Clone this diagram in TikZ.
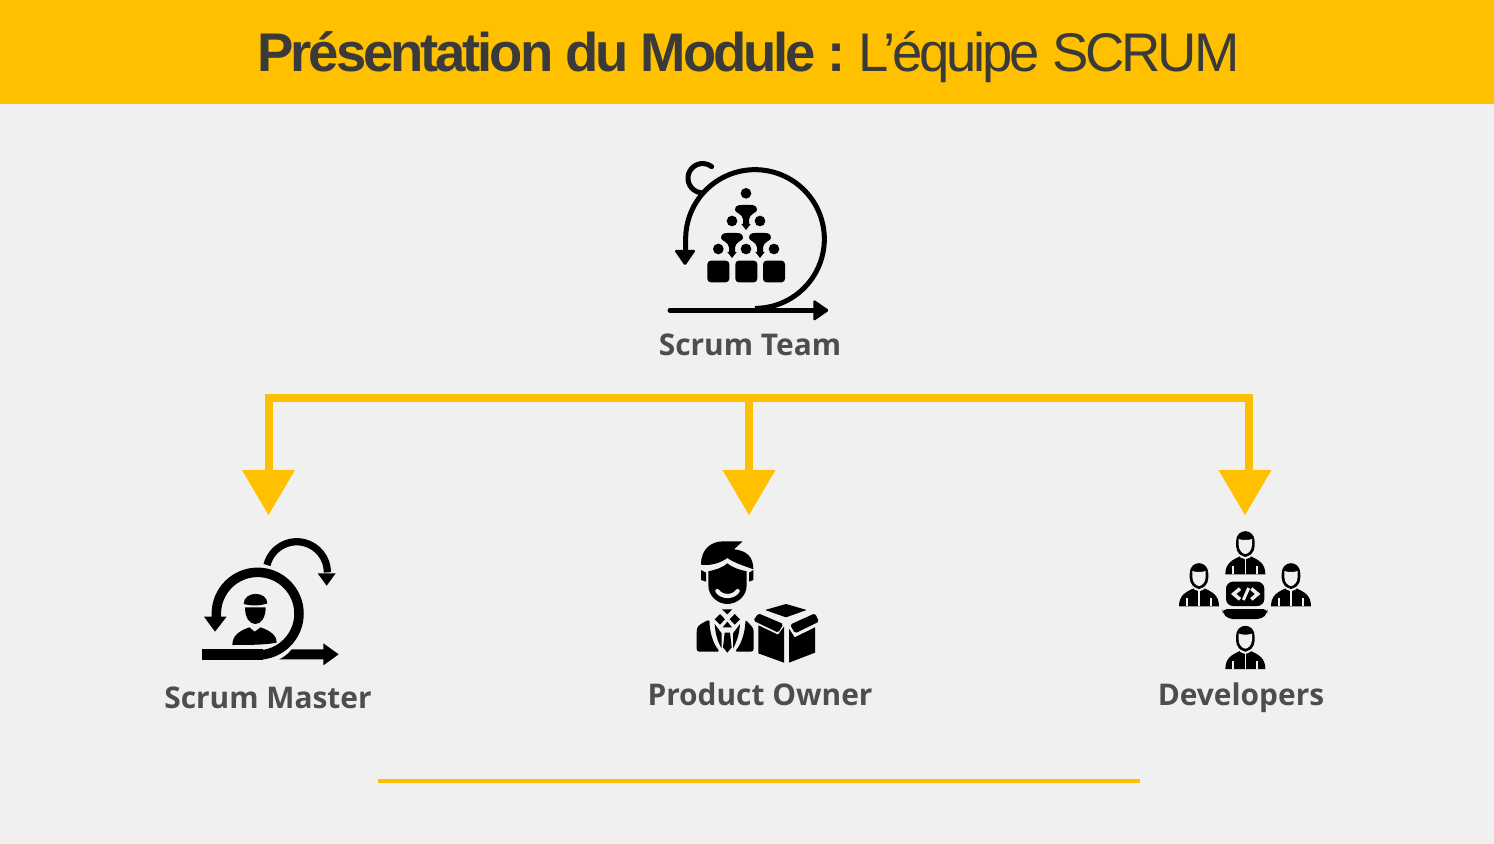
\documentclass[tikz,border=0pt]{standalone}
\usepackage{fontspec}
\setmainfont{Liberation Sans}
\newfontfamily\titlefont[LetterSpace=-5.7]{Liberation Sans}
\newfontfamily\labelfont{Open Sans}
\usetikzlibrary{arrows.meta}

\definecolor{bandgold}{HTML}{FFC000}
\definecolor{pagegrey}{HTML}{F0F0F0}
\definecolor{titledark}{HTML}{3A3A3A}
\definecolor{labeldark}{HTML}{4D4D4D}

\tikzset{
  treeline/.style={bandgold, line width=0.16cm, line join=miter},
  treetip/.style={-{Triangle[width=1.06cm, length=0.9cm, line width=0pt]}},
  ruleline/.style={bandgold, line width=0.08cm},
  rolelabel/.style={text=labeldark, anchor=base, font=\labelfont\bfseries\fontsize{17}{20}\selectfont, inner sep=0pt},
  iconline/.style={black, line width=#1, line cap=butt},
  iconcut/.style={pagegrey, line width=#1, line cap=round, line join=round}
}

% small figure of the team pyramid, coordinates are crop pixels
\newcommand{\teamfunnel}[2]{
  \fill[black, shift={(#1,#2)}] (-33,2) .. controls (-33,-10) and (-24,-13) .. (-14,-13)
    -- (14,-13) .. controls (24,-13) and (33,-10) .. (33,2)
    .. controls (33,10) and (10,14) .. (9,30) -- (9,44) -- (14,44) -- (0,62) -- (-14,44) -- (-9,44) -- (-9,30)
    .. controls (-10,14) and (-33,10) .. (-33,2) -- cycle;
}

\newcommand{\devperson}[2]{
  \begin{scope}[shift={(#1,#2)}]
    \fill[black] (-60,128) .. controls (-60,95) and (-40,85) .. (-16,74) -- (16,74)
      .. controls (40,85) and (60,95) .. (60,128) -- cycle;
    \fill[black] (-28,30) .. controls (-28,-12) and (28,-12) .. (28,30)
      -- (28,42) .. controls (28,62) and (12,76) .. (0,76) .. controls (-12,76) and (-28,62) .. (-28,42) -- cycle;
    \fill[pagegrey] (-20,22) .. controls (-10,26) and (10,26) .. (20,22)
      -- (20,40) .. controls (20,56) and (8,67) .. (0,67) .. controls (-8,67) and (-20,56) .. (-20,40) -- cycle;
    \draw[iconcut=0.04cm, line cap=butt] (-36,128) -- (-36,104);
    \draw[iconcut=0.04cm, line cap=butt] (36,128) -- (36,104);
    \draw[iconcut=0.03cm, line cap=butt] (0,128) -- (0,80);
    \draw[iconcut=0.04cm] (-14,74) -- (0,80) -- (14,74);
  \end{scope}
}

\begin{document}
\begin{tikzpicture}[x=0.02cm, y=-0.02cm]
  \useasboundingbox (0,0) rectangle (1494,844);

  \fill[pagegrey] (0,0) rectangle (1494,844);
  \fill[bandgold] (0,0) rectangle (1494,104);

  \node[inner sep=0pt, anchor=base, text=titledark, font=\titlefont\fontsize{31}{36}\selectfont] (titleText) at (748.5,72)
    {\textbf{Présentation du Module :} L’équipe SCRUM};

  % scrum team icon
  \begin{scope}[shift={(650,150)}, scale=1/3]
    \draw[iconline=0.1cm] (315,475) arc (90:-180:208) -- (107,305);
    \fill[black, rounded corners=1pt] (72,300) -- (138,300) -- (105,348) -- cycle;
    \draw[iconline=0.1cm, line cap=round] (185,50) arc (-52:-265:44);
    \draw[iconline=0.1cm, line cap=round] (60,481) -- (500,481);
    \fill[black, rounded corners=1pt] (490,448) -- (538,481) -- (490,514) -- cycle;
    \foreach \px/\py in {288/130, 246/213, 330/213, 205/297, 288/297, 372/297}
      \fill[black] (\px,\py) circle (16);
    \teamfunnel{288}{178}
    \teamfunnel{246}{262}
    \teamfunnel{330}{262}
    \foreach \px in {172,256,339}
      \fill[black, rounded corners=2pt] (\px,332) rectangle (\px+66,397);
  \end{scope}

  \node[rolelabel] (teamLabel) at (750,356) {Scrum Team};

  % tree
  \coordinate (masterCorner) at (268.5,398);
  \coordinate (ownerTop) at (749,398);
  \coordinate (devCorner) at (1249,398);
  \coordinate (masterTip) at (268.5,515);
  \coordinate (ownerTip) at (749,515);
  \coordinate (devNeck) at (1249,472);
  \coordinate (devHeadTop) at (1245,468);
  \coordinate (devTip) at (1245,515);

  \draw[treeline, treetip] (devNeck) -- (devCorner) -- (masterCorner) -- (masterTip);
  \draw[treeline, treetip] (ownerTop) -- (ownerTip);
  \draw[bandgold, line width=0pt, treetip] (devHeadTop) -- (devTip);

  % scrum master icon
  \begin{scope}[shift={(150,520)}, scale=1/3]
    \draw[iconline=0.19cm] (323,405) arc (90:-180:124) -- (199,292);
    \fill[black] (162,290) -- (230,290) -- (195,335) -- cycle;
    \fill[black] (155,387) -- (340,387) -- (340,419) -- (155,419) -- cycle;
    \fill[black] (388,418) .. controls (405,410) and (415,400) .. (425,388) -- (520,388) -- (520,370)
      -- (566,403) -- (520,436) -- (520,418) -- cycle;
    \draw[iconline=0.145cm] (351,135) arc (-166:0:92) ;
    \fill[black] (503,160) -- (557,160) -- (530,197) -- cycle;
    % head and shoulders
    \fill[black] (247,375) .. controls (247,345) and (270,332) .. (298,322) -- (314,335) -- (332,322)
      .. controls (360,332) and (380,345) .. (380,368) .. controls (345,375) and (290,375) .. (247,375) -- cycle;
    \fill[black] (285,262) .. controls (285,292) and (298,312) .. (316,312) .. controls (334,312) and (347,292) .. (347,262) -- cycle;
    \fill[black] (281,252) .. controls (281,212) and (352,212) .. (352,250) .. controls (330,258) and (305,258) .. (281,252) -- cycle;
  \end{scope}

  \node[rolelabel] (masterLabel) at (268,708) {Scrum Master};

  % product owner icon
  \begin{scope}[shift={(640,530)}, scale=1/3]
    \fill[black] (183,104) .. controls (183,55) and (215,34) .. (250,34) -- (308,34) -- (282,58)
      .. controls (320,62) and (340,80) .. (340,118) .. controls (315,108) and (285,100) .. (262,84)
      .. controls (240,100) and (210,108) .. (183,104) -- cycle;
    \fill[black] (205,124) .. controls (225,120) and (250,112) .. (262,100) .. controls (275,112) and (300,120) .. (320,124)
      -- (320,165) .. controls (320,200) and (290,222) .. (262,222) .. controls (235,222) and (205,200) .. (205,165) -- cycle;
    \fill[black] (183,120) -- (198,128) -- (198,155) -- (183,150) -- cycle;
    \fill[black] (340,120) -- (327,128) -- (327,155) -- (340,150) -- cycle;
    \draw[iconcut=0.085cm] (232,183) .. controls (245,203) and (280,203) .. (293,183);
    \fill[black, rounded corners=1.5pt] (170,365) -- (170,305) .. controls (172,285) and (190,278) .. (209,268)
      .. controls (208,300) and (218,340) .. (240,365) -- cycle;
    \fill[black, rounded corners=1.5pt] (341,365) -- (341,296) -- (316,268)
      .. controls (316,300) and (306,340) .. (284,365) -- cycle;
    \fill[black] (246,238) -- (277,238) -- (262,253) -- cycle;
    \fill[black] (240,252) -- (255,268) -- (240,284) -- (224,268) -- cycle;
    \fill[black] (284,252) -- (300,268) -- (284,284) -- (269,268) -- cycle;
    \fill[black] (262,275) -- (276,292) -- (248,292) -- cycle;
    \fill[black] (224,282) .. controls (226,315) and (235,340) .. (245,355) -- (245,310) -- cycle;
    \fill[black] (300,282) .. controls (298,315) and (288,340) .. (279,355) -- (279,310) -- cycle;
    \fill[black] (254,308) -- (270,308) -- (275,352) -- (262,368) -- (249,352) -- cycle;
    \fill[black, rounded corners=0.5pt] (375,240) -- (438,222) -- (500,240) -- (438,262) -- cycle;
    \fill[black, rounded corners=1pt] (340,272) -- (355,250) -- (430,282) -- (415,308) -- cycle;
    \fill[black, rounded corners=1pt] (450,284) -- (525,250) -- (537,275) -- (465,310) -- cycle;
    \fill[black] (355,286) -- (414,314) -- (432,290) -- (432,398) -- (355,370) -- cycle;
    \fill[black] (447,398) -- (447,296) -- (464,322) -- (525,292) -- (525,368) -- cycle;
  \end{scope}

  \node[rolelabel] (ownerLabel) at (760,705) {Product Owner};

  % developers icon
  \begin{scope}[shift={(1150,520)}, scale=1/3]
    \devperson{286}{35}
    \devperson{147}{131}
    \devperson{423}{131}
    \devperson{286}{319}
    \fill[black, rounded corners=4pt] (228,258) -- (228,185) -- (343,185) -- (343,258) -- cycle;
    \fill[black, rounded corners=2.5pt] (218,267) -- (352,267) -- (352,280) -- (335,297) -- (235,297) -- (218,280) -- cycle;
    \draw[iconcut=0.07cm, line cap=butt, line join=miter] (270,206) -- (251,222) -- (270,238);
    \draw[iconcut=0.07cm, line cap=butt, line join=miter] (304,206) -- (323,222) -- (304,238);
    \draw[iconcut=0.06cm, line cap=butt] (296,204) -- (280,240);
  \end{scope}

  \node[rolelabel] (devLabel) at (1241,705) {Developers};

  % rule under the roles
  \coordinate (ruleLeft) at (378,781);
  \coordinate (ruleRight) at (1140,781);
  \draw[ruleline] (ruleLeft) -- (ruleRight);
\end{tikzpicture}
\end{document}
